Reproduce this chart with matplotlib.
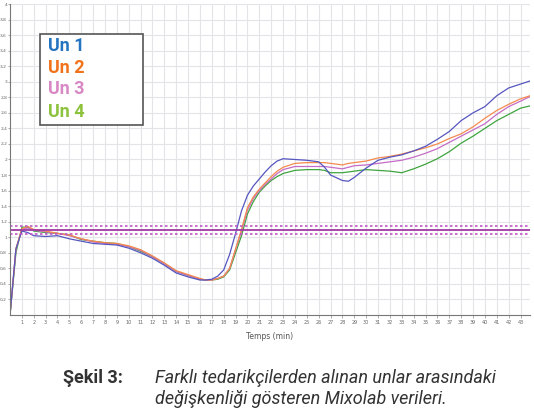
import matplotlib
matplotlib.use("Agg")
import matplotlib.pyplot as plt
from matplotlib.patches import Rectangle

# ---- data ----
time_min = [0, 0.5, 1, 1.5, 2,
            3, 4, 5, 6, 7, 8, 9, 10, 11, 12, 13, 14,
            15, 16, 16.5, 17, 17.5, 18, 18.5, 19, 19.5, 20, 20.5, 21, 21.5, 22, 22.5, 23,
            24, 25, 26, 26.5, 27, 28, 28.5, 29,
            30, 31, 32, 33, 34, 35, 36, 37, 38, 39, 40, 41, 42, 43,
            43.8]

un1 = [0, 0.85, 1.08, 1.06, 1.02,
       1.01, 1.02, 0.98, 0.95, 0.92, 0.91, 0.90, 0.86, 0.80, 0.73, 0.64, 0.54,
       0.49, 0.45, 0.45, 0.46, 0.50, 0.58, 0.78, 1.05, 1.34, 1.54, 1.66, 1.75, 1.84, 1.92, 1.98, 2.01,
       2.00, 1.99, 1.97, 1.90, 1.80, 1.73, 1.72, 1.77,
       1.89, 1.99, 2.03, 2.06, 2.11, 2.17, 2.26, 2.36, 2.50, 2.60, 2.68, 2.82, 2.92, 2.97,
       3.01]

un2 = [0, 0.85, 1.11, 1.14, 1.10,
       1.08, 1.05, 1.03, 0.98, 0.95, 0.93, 0.92, 0.89, 0.84, 0.76, 0.67, 0.57,
       0.52, 0.47, 0.45, 0.45, 0.47, 0.50, 0.60, 0.85, 1.10, 1.38, 1.52, 1.62, 1.70, 1.78, 1.85, 1.90,
       1.95, 1.96, 1.96, 1.96, 1.95, 1.93, 1.95, 1.96,
       1.98, 2.02, 2.04, 2.07, 2.11, 2.15, 2.20, 2.27, 2.33, 2.42, 2.53, 2.63, 2.71, 2.78,
       2.82]

un3 = [0, 0.85, 1.10, 1.12, 1.09,
       1.07, 1.05, 1.02, 0.98, 0.94, 0.92, 0.91, 0.88, 0.83, 0.75, 0.66, 0.56,
       0.51, 0.46, 0.45, 0.45, 0.47, 0.50, 0.60, 0.84, 1.08, 1.35, 1.50, 1.60, 1.68, 1.75, 1.82, 1.87,
       1.91, 1.91, 1.91, 1.91, 1.90, 1.88, 1.90, 1.92,
       1.93, 1.95, 1.97, 1.99, 2.03, 2.08, 2.14, 2.22, 2.30, 2.38, 2.46, 2.58, 2.68, 2.75,
       2.81]

un4 = [0, 0.80, 1.13, 1.13, 1.08,
       1.06, 1.05, 1.03, 0.97, 0.95, 0.93, 0.92, 0.88, 0.82, 0.75, 0.66, 0.56,
       0.51, 0.46, 0.45, 0.45, 0.46, 0.49, 0.58, 0.80, 1.02, 1.30, 1.46, 1.58, 1.66, 1.73, 1.78, 1.82,
       1.86, 1.87, 1.87, 1.86, 1.83, 1.83, 1.84, 1.85,
       1.87, 1.86, 1.85, 1.83, 1.88, 1.94, 2.01, 2.10, 2.21, 2.30, 2.40, 2.50, 2.58, 2.66,
       2.69]

series_names = ["Un 1", "Un 2", "Un 3", "Un 4"]
ref_line = 1.095
ref_band = [1.045, 1.145]

x_ticks = list(range(1, 44))
y_ticks = [0.2 * i for i in range(1, 21)]

caption_label = "Şekil 3:"
caption_lines = ["Farklı tedarikçilerden alınan unlar arasındaki",
                 "değişkenliği gösteren Mixolab verileri."]

# ---- styles ----
line_colors = ["#5656c0", "#f58a4e", "#c46cc6", "#3ea43e"]
legend_colors = ["#2574c0", "#f0731c", "#d888c4", "#8cc23c"]

fig = plt.figure(figsize=(5.34, 4.11), dpi=100)
ax = fig.add_axes([10 / 534, 96 / 411, 520 / 534, 311 / 411])

for ys, c in zip([un4, un3, un2, un1], line_colors[::-1]):
    ax.plot(time_min, ys, color=c, lw=0.9)

ax.axhline(ref_line, color="#a03aa4", lw=1.3)
for v in ref_band:
    ax.axhline(v, color="#c055c4", lw=1.2, ls=(0, (1.5, 1.5)))

ax.set_xlim(0, 43.8)
ax.set_ylim(0, 4)
ax.set_xticks(x_ticks)
ax.set_xticklabels([str(t) for t in x_ticks], fontsize=3.5, color="#666666")
ax.set_yticks(y_ticks)
ax.set_yticklabels([("%.1f" % t).rstrip("0").rstrip(".").replace(".", ",") for t in y_ticks],
                   fontsize=3.2, color="#666666")
ax.tick_params(axis="x", length=2, width=0.5, pad=1.5, colors="#888888", labelcolor="#666666")
ax.tick_params(axis="y", length=1.5, width=0.5, pad=0.6, colors="#888888", labelcolor="#666666")
ax.grid(True, color="#e3e4e8", lw=0.8)
ax.set_axisbelow(True)
for s in ["top", "right"]:
    ax.spines[s].set_visible(False)
for s in ["left", "bottom"]:
    ax.spines[s].set_color("#777777")
    ax.spines[s].set_linewidth(0.8)
ax.set_xlabel("Temps (min)", fontsize=5.5, color="#555555", labelpad=5)

# legend box
fig.patches.append(Rectangle((39.5 / 534, 1 - 125 / 411), 103 / 534, 91 / 411,
                             transform=fig.transFigure, facecolor="white",
                             edgecolor="#555555", lw=1.2, zorder=5))
legend_y = [45.7, 67.7, 89.3, 111.7]
for name, c, yp in zip(series_names, legend_colors, legend_y):
    fig.text(48 / 534, 1 - yp / 411, name, color=c, fontsize=13, fontweight="bold",
             family=["Roboto", "DejaVu Sans"], va="center", ha="left", zorder=6)

# caption
fig.text(63 / 534, 1 - 383 / 411, caption_label, fontsize=13, fontweight="bold",
         color="#333333", family=["Roboto", "DejaVu Sans"], va="baseline", ha="left")
for line, yb in zip(caption_lines, [383, 404]):
    fig.text(155 / 534, 1 - yb / 411, line, fontsize=13, style="italic", color="#333333",
             family=["Roboto", "DejaVu Sans"], va="baseline", ha="left")

fig.savefig("out.png", dpi=100)
